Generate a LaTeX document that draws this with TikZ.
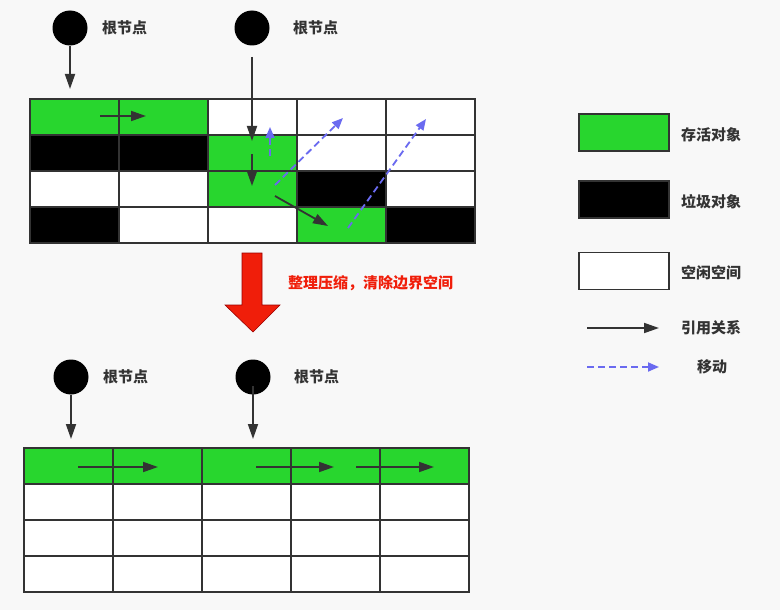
\documentclass[tikz,border=0pt]{standalone}
\usepackage{fontspec}
\newfontfamily\cjk{Noto Sans CJK SC}
\usetikzlibrary{arrows.meta}
\definecolor{bg}{HTML}{F8F8F8}
\definecolor{live}{HTML}{28D62E}
\definecolor{gridline}{HTML}{333333}
\definecolor{movecol}{HTML}{6A6AF0}
\definecolor{redfill}{HTML}{F01E0A}
\tikzset{
  x={(1pt,0)}, y={(0,-1pt)},
  cell/.style={draw=gridline, line width=1.6pt, minimum width=89pt, minimum height=36pt, inner sep=0pt, outer sep=0pt},
  L/.style={cell, fill=live},
  D/.style={cell, fill=black},
  F/.style={cell, fill=white},
  root/.style={circle, fill=black, minimum size=35pt, inner sep=0pt},
  lbl/.style={font=\cjk\bfseries\fontsize{15pt}{17pt}\selectfont, text=black!80, inner sep=0pt},
  ref/.style={draw=gridline, line width=1.8pt, -{Triangle[length=15pt,width=10pt]}},
  move/.style={draw=movecol, line width=1.8pt, dash pattern=on 7pt off 4pt, -{Triangle[length=11pt,width=9pt]}},
  legbox/.style={draw=gridline, line width=1.6pt, minimum width=90pt, minimum height=37pt, inner sep=0pt},
}
\begin{document}
\begin{tikzpicture}
\fill[bg] (0,0) rectangle (780,610);
\useasboundingbox (0,0) rectangle (780,610);

% ---------- top grid ----------
\foreach \r/\row in {0/{L,L,F,F,F},1/{D,D,L,F,F},2/{F,F,L,D,F},3/{D,F,F,L,D}}{
  \foreach \t [count=\c from 0] in \row {
    \node[\t, anchor=north west] (a-\r-\c) at ({30+89*\c},{99+36*\r}) {};
  }
}

\node[root] (r1) at (70,28) {};
\node[lbl, anchor=west] (t1) at (102,28) {根节点};
\node[root] (r2) at (252,28) {};
\node[lbl, anchor=west] (t2) at (293,28) {根节点};

\coordinate (p1) at (70,89);
\draw[ref] (r1) -- (p1);
\coordinate (q0) at (252,57);
\coordinate (q1) at (252,141);
\draw[ref] (q0) -- (q1);
\coordinate (q2) at (252,154);
\coordinate (q3) at (252,186);
\draw[ref] (q2) -- (q3);
\coordinate (q4) at (275,196);
\coordinate (q5) at (328,226);
\draw[ref] (q4) -- (q5);
\coordinate (s0) at (100,116);
\coordinate (s1) at (146,116);
\draw[ref] (s0) -- (s1);

\coordinate (m0) at (270,156);
\coordinate (m1) at (270,127);
\draw[move] (m0) -- (m1);
\coordinate (m2) at (275,185);
\coordinate (m3) at (343,118);
\draw[move] (m2) -- (m3);
\coordinate (m4) at (348,228);
\coordinate (m5) at (426,119);
\draw[move] (m4) -- (m5);

% ---------- red arrow ----------
\draw[fill=redfill, draw=red!60!black, line width=0.6pt]
  (242,253) -- (262,253) -- (262,305) -- (280,305) -- (253,332) -- (225,305) -- (242,305) -- cycle;
\node[lbl, text=redfill, anchor=west] (cap) at (288,283) {整理压缩，清除边界空间};

% ---------- bottom grid ----------
\foreach \r/\row in {0/{L,L,L,L,L},1/{F,F,F,F,F},2/{F,F,F,F,F},3/{F,F,F,F,F}}{
  \foreach \t [count=\c from 0] in \row {
    \node[\t, anchor=north west] (b-\r-\c) at ({24+89*\c},{448+36*\r}) {};
  }
}

\node[root] (r3) at (71,377) {};
\node[lbl, anchor=west] (t3) at (103,377) {根节点};
\node[root] (r4) at (253,377) {};
\node[lbl, anchor=west] (t4) at (294,377) {根节点};

\coordinate (u1) at (71,439);
\draw[ref] (r3) -- (u1);
\coordinate (u2) at (253,386);
\coordinate (u3) at (253,439);
\draw[ref] (u2) -- (u3);

\coordinate (v0) at (78,467);
\coordinate (v1) at (158,467);
\draw[ref] (v0) -- (v1);
\coordinate (v2) at (256,467);
\coordinate (v3) at (334,467);
\draw[ref] (v2) -- (v3);
\coordinate (v4) at (356,467);
\coordinate (v5) at (434,467);
\draw[ref] (v4) -- (v5);

% ---------- legend ----------
\node[legbox, fill=live] (g1) at (624,132.5) {};
\node[lbl, anchor=west] (g1t) at (681,135) {存活对象};
\node[legbox, fill=black] (g2) at (624,199.5) {};
\node[lbl, anchor=west] (g2t) at (681,202) {垃圾对象};
\node[legbox, fill=white] (g3) at (624,271) {};
\node[lbl, anchor=west] (g3t) at (681,273) {空闲空间};

\coordinate (l0) at (587,328);
\coordinate (l1) at (659,328);
\draw[ref] (l0) -- (l1);
\node[lbl, anchor=west] (l1t) at (681,328) {引用关系};
\coordinate (l2) at (587,367);
\coordinate (l3) at (659,367);
\draw[move] (l2) -- (l3);
\node[lbl, anchor=west] (l2t) at (697,367) {移动};
\end{tikzpicture}
\end{document}
